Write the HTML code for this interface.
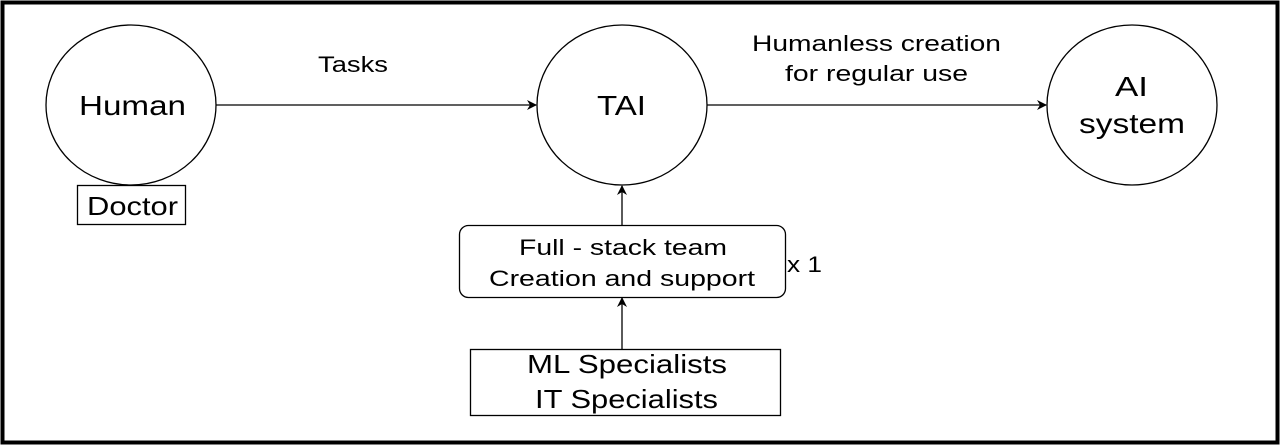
<!DOCTYPE html>
<html><head><style>
html,body{margin:0;padding:0;background:#fff;}
svg{display:block;}
text{font-family:"Liberation Sans",Arial,sans-serif;fill:#000;}
</style></head><body>
<svg width="1280" height="445" viewBox="0 0 1280 445">
<rect x="2.5" y="2.5" width="1275" height="440" fill="#fff" stroke="#000" stroke-width="4"/>
<defs><marker id="a" markerWidth="10" markerHeight="10" refX="9" refY="5" orient="auto" markerUnits="userSpaceOnUse"><path d="M0,0 L10,5 L0,10 L3,5 Z" fill="#000"/></marker></defs>
<ellipse cx="131" cy="105" rx="85" ry="80" fill="none" stroke="#000" stroke-width="1.3"/>
<ellipse cx="622" cy="105" rx="85" ry="80" fill="none" stroke="#000" stroke-width="1.3"/>
<ellipse cx="1132" cy="105" rx="85" ry="80" fill="none" stroke="#000" stroke-width="1.3"/>
<text x="79" y="115" font-size="28" textLength="107" lengthAdjust="spacingAndGlyphs">Human</text>
<text x="597" y="115" font-size="28" textLength="49" lengthAdjust="spacingAndGlyphs">TAI</text>
<text x="1115" y="96" font-size="28" textLength="33" lengthAdjust="spacingAndGlyphs">AI</text>
<text x="1079" y="133" font-size="28" textLength="106" lengthAdjust="spacingAndGlyphs">system</text>
<rect x="77.5" y="185.5" width="108" height="39" fill="none" stroke="#000" stroke-width="1.3"/>
<text x="87" y="215" font-size="26" textLength="91" lengthAdjust="spacingAndGlyphs">Doctor</text>
<line x1="216" y1="105" x2="536" y2="105" stroke="#000" stroke-width="1.3" marker-end="url(#a)"/>
<text x="318" y="72" font-size="22" textLength="70" lengthAdjust="spacingAndGlyphs">Tasks</text>
<line x1="707" y1="105" x2="1046" y2="105" stroke="#000" stroke-width="1.3" marker-end="url(#a)"/>
<text x="752" y="51" font-size="22" textLength="249" lengthAdjust="spacingAndGlyphs">Humanless creation</text>
<text x="785" y="81" font-size="22" textLength="183" lengthAdjust="spacingAndGlyphs">for regular use</text>
<rect x="459.5" y="225.5" width="326" height="72" rx="9" fill="none" stroke="#000" stroke-width="1.3"/>
<text x="519" y="255" font-size="22" textLength="208" lengthAdjust="spacingAndGlyphs">Full - stack team</text>
<text x="489" y="286" font-size="22" textLength="266" lengthAdjust="spacingAndGlyphs">Creation and support</text>
<text x="787" y="272" font-size="22" textLength="35" lengthAdjust="spacingAndGlyphs">x 1</text>
<line x1="622" y1="225" x2="622" y2="186" stroke="#000" stroke-width="1.3" marker-end="url(#a)"/>
<rect x="470.5" y="349.5" width="310" height="66" fill="none" stroke="#000" stroke-width="1.3"/>
<text x="527" y="373" font-size="26" textLength="200" lengthAdjust="spacingAndGlyphs">ML Specialists</text>
<text x="535" y="408" font-size="26" textLength="183" lengthAdjust="spacingAndGlyphs">IT Specialists</text>
<line x1="622" y1="349" x2="622" y2="298" stroke="#000" stroke-width="1.3" marker-end="url(#a)"/>
</svg>
</body></html>
